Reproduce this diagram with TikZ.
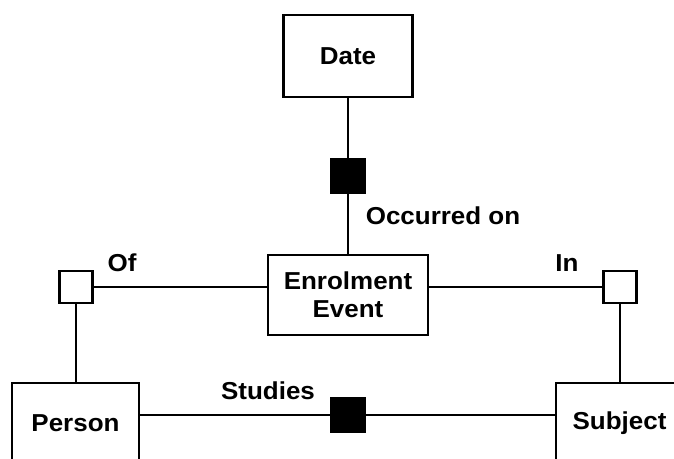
\documentclass[tikz,border=0pt]{standalone}
\usepackage{fontspec}
\setmainfont{Liberation Sans}[FakeStretch=1.06]
\begin{document}
\begin{tikzpicture}[x=1pt,y=-1pt,
  every node/.style={font=\fontsize{24.5}{28}\selectfont\bfseries, inner sep=0pt},
  entity/.style={draw, line width=2.8pt, fill=white, align=center},
  mandatory/.style={draw, line width=2pt, fill=black, minimum width=34pt, minimum height=34pt},
  optional/.style={draw, line width=2.8pt, fill=white, minimum width=33pt, minimum height=32pt},
  link/.style={line width=2.8pt}]
  \useasboundingbox (0,0) rectangle (674,458);
  \clip (0,0) rectangle (674,458);

  % entities
  \node[entity, minimum width=129pt, minimum height=82pt] (date) at (348,56) {Date};
  \node[entity, minimum width=160pt, minimum height=80pt] (event) at (348,295) {Enrolment\\Event};
  \node[entity, minimum width=127pt, minimum height=80pt] (person) at (75.5,423) {Person};
  \node[entity, minimum width=127pt, minimum height=80pt] (subject) at (619.5,423) {Subject};

  % relationship markers
  \node[mandatory] (occ) at (348,176) {};
  \node[mandatory] (stud) at (348,415) {};
  \node[optional] (of) at (76,287) {};
  \node[optional] (in) at (620,287) {};

  % connectors
  \draw[link] (date) -- (occ);
  \draw[link] (occ) -- (event);
  \draw[link] (of.east) -- (event.west |- of);
  \draw[link] (event.east |- in) -- (in.west);
  \draw[link] (of.south) -- (person.north -| of);
  \draw[link] (in.south) -- (subject.north -| in);
  \draw[link] (person.east |- stud) -- (stud.west);
  \draw[link] (stud.east) -- (subject.west |- stud);

  % relationship labels
  \node (occlbl) at (443,216) {Occurred on};
  \node (oflbl) at (122,263) {Of};
  \node (inlbl) at (567,263) {In};
  \node (studlbl) at (268,391) {Studies};
\end{tikzpicture}
\end{document}
